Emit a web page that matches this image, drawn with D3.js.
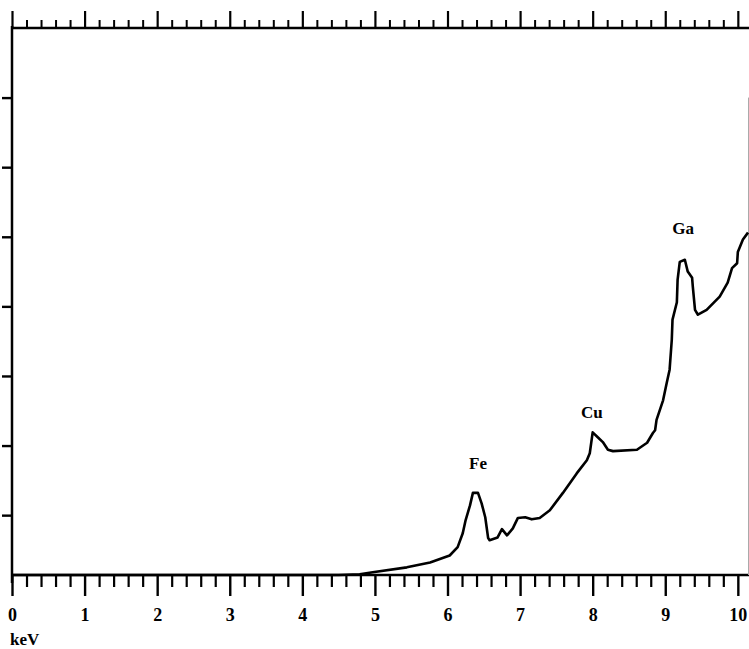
<!DOCTYPE html>
<html>
<head>
<meta charset="utf-8">
<script src="https://cdn.jsdelivr.net/npm/d3@7"></script>
<style>
html,body{margin:0;padding:0;background:#fff;}
svg{display:block;}
</style>
</head>
<body>
<svg id="chart" width="749" height="649"></svg>
<script>
// Energy (keV) of each traced point of the spectrum
const energy = [0, 1, 2, 3, 4, 4.5, 4.79, 4.97, 5.44, 5.76, 6.03, 6.14, 6.21, 6.25, 6.31, 6.35, 6.42, 6.47, 6.52, 6.56, 6.58,
  6.69, 6.75, 6.82, 6.90, 6.97, 7.07, 7.16, 7.27, 7.41, 7.59, 7.78, 7.92, 7.96, 8.00, 8.07, 8.14, 8.21, 8.28,
  8.61, 8.75, 8.83, 8.86, 8.88, 8.97, 9.02, 9.06, 9.09, 9.10, 9.16, 9.17, 9.20, 9.27, 9.31, 9.37, 9.38, 9.41,
  9.45, 9.57, 9.75, 9.86, 9.92, 9.99, 10.00, 10.07, 10.14];
// Counts (arbitrary units)
const counts = [0.14, 0.14, 0.14, 0.14, 0.14, 0.14, 0.15, 0.18, 0.25, 0.32, 0.42, 0.54, 0.74, 0.93, 1.14, 1.32, 1.32, 1.17, 0.97, 0.67, 0.64,
  0.68, 0.80, 0.71, 0.81, 0.96, 0.97, 0.94, 0.96, 1.07, 1.32, 1.60, 1.79, 1.89, 2.19, 2.12, 2.05, 1.94, 1.92,
  1.94, 2.04, 2.18, 2.22, 2.37, 2.65, 2.90, 3.09, 3.52, 3.81, 4.06, 4.38, 4.64, 4.67, 4.50, 4.41, 4.28, 3.95,
  3.88, 3.95, 4.14, 4.34, 4.55, 4.62, 4.78, 4.96, 5.06];
// Axis ticks
const xMajorTicks = [0, 1, 2, 3, 4, 5, 6, 7, 8, 9, 10];
const xMinorTicks = [0.2,0.4,0.6,0.8,1.2,1.4,1.6,1.8,2.2,2.4,2.6,2.8,3.2,3.4,3.6,3.8,4.2,4.4,4.6,4.8,
  5.2,5.4,5.6,5.8,6.2,6.4,6.6,6.8,7.2,7.4,7.6,7.8,8.2,8.4,8.6,8.8,9.2,9.4,9.6,9.8];
const xTickLabels = ["0","1","2","3","4","5","6","7","8","9","10"];
const yTicks = [1, 2, 3, 4, 5, 6, 7];
// Peak labels
const peakNames = ["Fe", "Cu", "Ga"];
const peakEnergy = [6.42, 7.99, 9.245];
const peakLabelCounts = [1.66, 2.40, 5.04];

const svg = d3.select("#chart");
const x = d3.scaleLinear().domain([0, 10.14]).range([12, 748]);
const y = d3.scaleLinear().domain([0.14, 8]).range([575, 28]);
const serif = "'Liberation Serif','DejaVu Serif',serif";

function styleAxis(g, w) {
  g.select(".domain").remove();
  g.selectAll(".tick line").attr("stroke", "#000").attr("stroke-width", w);
}

// top axis
svg.append("g").attr("transform", `translate(0,${y(8)})`)
  .call(d3.axisTop(x).tickValues(xMinorTicks).tickSize(8).tickFormat(""))
  .call(g => styleAxis(g, 2));
svg.append("g").attr("transform", `translate(0,${y(8)})`)
  .call(d3.axisTop(x).tickValues(xMajorTicks).tickSize(17).tickFormat(""))
  .call(g => styleAxis(g, 2.2));

// bottom axis
svg.append("g").attr("transform", `translate(0,${y(0.14)})`)
  .call(d3.axisBottom(x).tickValues(xMinorTicks).tickSize(12).tickFormat(""))
  .call(g => styleAxis(g, 2.2));
const bx = svg.append("g").attr("transform", `translate(0,${y(0.14)})`)
  .call(d3.axisBottom(x).tickValues(xMajorTicks).tickSize(21).tickPadding(12)
        .tickFormat((d, i) => xTickLabels[i]))
  .call(g => styleAxis(g, 2.4));
bx.selectAll("text").attr("fill", "#000").style("font-family", serif)
  .style("font-size", "18px").style("font-weight", "bold");

// left axis
svg.append("g").attr("transform", `translate(${x(0)},0)`)
  .call(d3.axisLeft(y).tickValues(yTicks).tickSize(10).tickFormat(""))
  .call(g => styleAxis(g, 2.4));

// frame lines
svg.append("line").attr("x1", x(0)).attr("x2", 749).attr("y1", y(8)).attr("y2", y(8))
  .attr("stroke", "#000").attr("stroke-width", 2.5);
svg.append("line").attr("x1", x(0)).attr("x2", 749).attr("y1", y(0.14)).attr("y2", y(0.14))
  .attr("stroke", "#000").attr("stroke-width", 2.5);
svg.append("line").attr("x1", x(0)).attr("x2", x(0)).attr("y1", y(8) - 2).attr("y2", y(0.14) + 8)
  .attr("stroke", "#000").attr("stroke-width", 2.5);
svg.append("line").attr("x1", 748.5).attr("x2", 748.5).attr("y1", y(7)).attr("y2", y(0.14))
  .attr("stroke", "#aaa").attr("stroke-width", 1);

// spectrum
const pts = energy.map((e, i) => [e, counts[i]]);
svg.append("path").datum(pts)
  .attr("fill", "none").attr("stroke", "#000").attr("stroke-width", 2.6)
  .attr("stroke-linejoin", "round")
  .attr("d", d3.line().x(d => x(d[0])).y(d => y(d[1])));

// peak labels
svg.selectAll("text.peak").data(peakNames).enter().append("text")
  .attr("class", "peak")
  .attr("x", (d, i) => x(peakEnergy[i]))
  .attr("y", (d, i) => y(peakLabelCounts[i]))
  .attr("text-anchor", "middle")
  .style("font-family", serif).style("font-size", "17px").style("font-weight", "600")
  .attr("fill", "#000")
  .text(d => d);

// axis unit
svg.append("text").attr("x", 10).attr("y", 645)
  .style("font-family", serif).style("font-size", "17px").style("font-weight", "bold")
  .attr("fill", "#000").text("keV");
</script>
</body>
</html>
